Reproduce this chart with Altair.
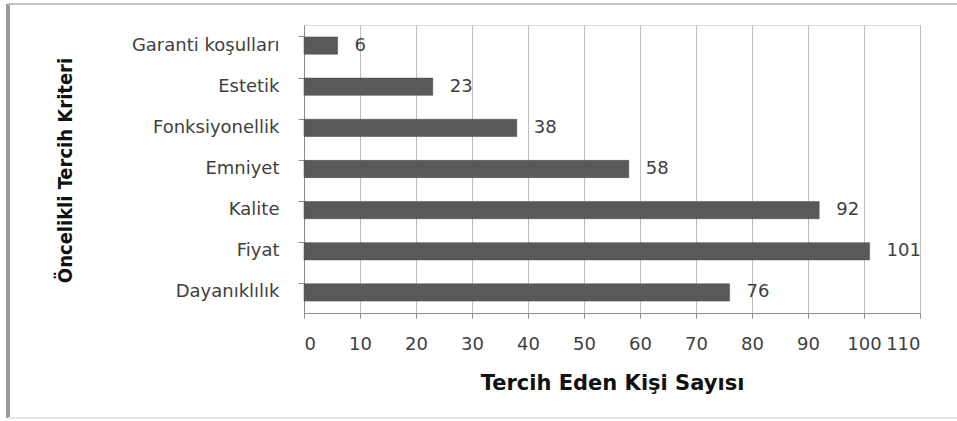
import altair as alt
import pandas as pd

categories = ["Garanti koşulları", "Estetik", "Fonksiyonellik", "Emniyet", "Kalite", "Fiyat", "Dayanıklılık"]
values = [6, 23, 38, 58, 92, 101, 76]
x_ticks = list(range(0, 111, 10))

df = pd.DataFrame({"kriter": categories, "sayi": values})

W, H = 616, 288
LABEL_FONT = "DejaVu Sans"

y_enc = alt.Y(
    "kriter:N",
    sort=categories,
    scale=alt.Scale(paddingInner=0.58, paddingOuter=0.29),
    axis=alt.Axis(
        title="Öncelikli Tercih Kriteri",
        titleFont="DejaVu Sans Condensed, Liberation Sans Narrow, sans-serif",
        titleFontSize=20,
        titleFontWeight="bold",
        titleColor="#111111",
        titleAngle=270,
        titleAlign="center",
        titleBaseline="middle",
        titleX=-239,
        titleY=H / 2 + 1,
        labelFont=LABEL_FONT,
        labelFontSize=18,
        labelColor="#404040",
        labelPadding=19,
        bandPosition=0,
        tickSize=6,
        tickColor="#8c8c8c",
        domainColor="#8c8c8c",
        grid=False,
    ),
)

x_enc = alt.X(
    "sayi:Q",
    scale=alt.Scale(domain=[0, 110], nice=False),
    axis=alt.Axis(
        values=x_ticks,
        title="Tercih Eden Kişi Sayısı",
        titleFont="DejaVu Sans",
        titleFontSize=21,
        titleFontWeight="bold",
        titleColor="#111111",
        titleY=70,
        titleBaseline="middle",
        labelFont=LABEL_FONT,
        labelFontSize=18,
        labelColor="#404040",
        labelPadding=17,
        tickSize=5,
        tickColor="#8c8c8c",
        domainColor="#8c8c8c",
        grid=True,
        gridColor="#bdbdbd",
        gridWidth=1,
    ),
)

bars = alt.Chart(df).mark_bar(color="#595959", stroke="#4a4a4a", strokeWidth=0.5).encode(
    x=x_enc, y=y_enc
)

labels = alt.Chart(df).mark_text(
    align="left", baseline="middle", dx=17, font=LABEL_FONT, fontSize=18, color="#404040"
).encode(x="sayi:Q", y=alt.Y("kriter:N", sort=categories), text="sayi:Q")

frame_left = alt.Chart(df).mark_rule(color="#9a9a9a", strokeWidth=3).encode(
    x=alt.value(8 - 304), y=alt.value(4 - 25), y2=alt.value(418 - 25)
)
frame_top = alt.Chart(df).mark_rule(color="#c4c4c4", strokeWidth=2).encode(
    x=alt.value(8 - 304), x2=alt.value(957 - 304), y=alt.value(4 - 25)
)
frame_bottom = alt.Chart(df).mark_rule(color="#e6e6e6", strokeWidth=2).encode(
    x=alt.value(8 - 304), x2=alt.value(957 - 304), y=alt.value(418 - 25)
)

chart = alt.layer(bars, labels, frame_left, frame_top, frame_bottom).properties(
    width=W,
    height=H,
    autosize=alt.AutoSizeParams(type="none"),
    padding={"left": 304, "top": 25, "right": 37, "bottom": 108},
).configure_view(stroke=None).configure(background="white")

chart.save("out.html", embed_options={"renderer": "svg", "actions": False})
